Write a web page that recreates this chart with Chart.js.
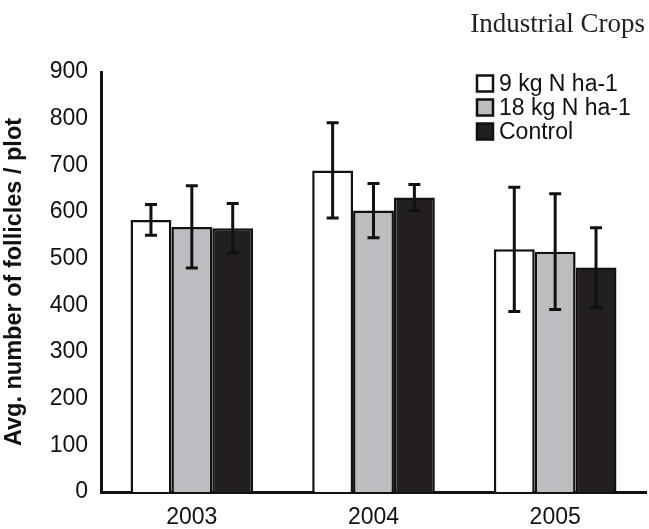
<!DOCTYPE html>
<html>
<head>
<meta charset="utf-8">
<script src="https://cdn.jsdelivr.net/npm/chart.js@4.4.1/dist/chart.umd.min.js"></script>
<style>
  html, body { margin: 0; padding: 0; background: #fff; }
  #wrap { position: relative; width: 649px; height: 529px; }
</style>
</head>
<body>
<div id="wrap">
  <canvas id="c" width="649" height="529"></canvas>
</div>
<script>
// Years sampled
const years = ['2003', '2004', '2005'];
// Treatment names
const treatments = ['9 kg N ha-1', '18 kg N ha-1', 'Control'];
// Mean follicles per plot for each treatment
const n9Means = [583, 689, 520];
const n18Means = [568, 603, 515];
const controlMeans = [565, 631, 481];
// Error bar half-widths
const n9Err = [33, 102, 133];
const n18Err = [88, 58, 124];
const controlErr = [53, 28, 85];
// Y axis ticks
const yTicks = [0, 100, 200, 300, 400, 500, 600, 700, 800, 900];
// Heading in the top right corner
const heading = 'Industrial Crops';

const fills = ['#ffffff', '#bcbdc0', '#231f20'];
const ink = '#111111';
const sans = '"Liberation Sans", Arial, sans-serif';

const errorBars = {
  id: 'errorBars',
  afterDatasetsDraw(chart) {
    const ctx = chart.ctx;
    const y = chart.scales.y;
    ctx.save();
    ctx.strokeStyle = ink;
    ctx.lineWidth = 3;
    chart.data.datasets.forEach((ds, di) => {
      const meta = chart.getDatasetMeta(di);
      meta.data.forEach((bar, i) => {
        const v = ds.data[i], e = ds.errors[i];
        const yt = y.getPixelForValue(v + e), yb = y.getPixelForValue(v - e);
        const x = bar.x, cap = 6;
        ctx.beginPath();
        ctx.moveTo(x, yt); ctx.lineTo(x, yb);
        ctx.moveTo(x - cap, yt); ctx.lineTo(x + cap, yt);
        ctx.moveTo(x - cap, yb); ctx.lineTo(x + cap, yb);
        ctx.stroke();
      });
    });
    ctx.restore();
  }
};

const boxLegend = {
  id: 'boxLegend',
  afterDraw(chart) {
    const ctx = chart.ctx;
    ctx.save();
    ctx.font = '23px ' + sans;
    ctx.textBaseline = 'middle';
    chart.data.datasets.forEach((ds, i) => {
      const cy = 83.5 + i * 24;
      ctx.fillStyle = ds.backgroundColor;
      ctx.fillRect(477, cy - 8, 16, 16);
      ctx.strokeStyle = ink;
      ctx.lineWidth = 2.5;
      ctx.strokeRect(477, cy - 8, 16, 16);
      ctx.fillStyle = '#111';
      ctx.fillText(ds.label, 499, cy + 1);
    });
    // heading
    ctx.font = '27px "Liberation Serif", "Times New Roman", serif';
    ctx.textAlign = 'right';
    ctx.textBaseline = 'alphabetic';
    ctx.fillStyle = '#231f20';
    ctx.fillText(heading, 645, 32);
    ctx.restore();
  }
};

const datasets = [n9Means, n18Means, controlMeans].map((d, i) => ({
  label: treatments[i],
  data: d,
  errors: [n9Err, n18Err, controlErr][i],
  backgroundColor: fills[i],
  borderColor: ink,
  borderWidth: 2.5,
  borderSkipped: 'bottom',
  categoryPercentage: 0.675,
  barPercentage: 1.0
}));

new Chart(document.getElementById('c'), {
  type: 'bar',
  data: { labels: years, datasets },
  plugins: [errorBars, boxLegend],
  options: {
    responsive: false,
    animation: false,
    layout: { padding: { top: 72, right: 3, left: 0, bottom: 0 } },
    plugins: { legend: { display: false }, tooltip: { enabled: false } },
    scales: {
      x: {
        grid: { display: false, drawTicks: false },
        border: { display: true, color: ink, width: 3 },
        ticks: { color: '#111', font: { family: sans, size: 23 }, padding: 12 },
        afterFit(s) { s.height = 37; }
      },
      y: {
        min: 0, max: 900,
        afterBuildTicks(s) { s.ticks = yTicks.map(v => ({ value: v })); },
        grid: { display: false, drawOnChartArea: false, drawTicks: true, tickLength: 9, tickColor: ink, tickWidth: 3 },
        border: { display: true, color: ink, width: 3 },
        ticks: { color: '#111', font: { family: sans, size: 23 }, padding: 4 },
        title: { display: true, text: 'Avg. number of follicles / plot', color: '#111', font: { family: sans, size: 23.5, weight: 'bold' }, padding: 0 },
        afterFit(s) { s.width = 101; }
      }
    }
  }
});
</script>
</body>
</html>
